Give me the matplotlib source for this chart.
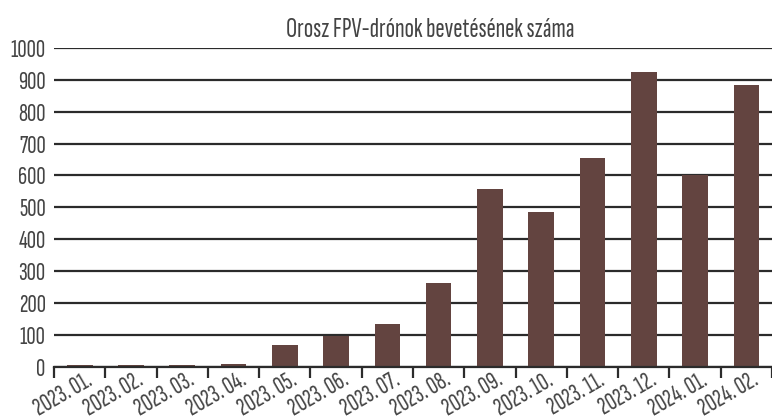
import matplotlib
matplotlib.use('Agg')
import matplotlib.pyplot as plt
import matplotlib.transforms as mtransforms
import numpy as np

plt.rcParams['font.family'] = ['Sofia Sans Extra Condensed', 'Barlow Condensed', 'DejaVu Sans']
plt.rcParams['font.weight'] = 'bold'

# adatok
months = ['2023. 01.', '2023. 02.', '2023. 03.', '2023. 04.', '2023. 05.', '2023. 06.', '2023. 07.',
          '2023. 08.', '2023. 09.', '2023. 10.', '2023. 11.', '2023. 12.', '2024. 01.', '2024. 02.']
counts = [6, 6, 5, 10, 69, 98, 134, 263, 557, 484, 656, 923, 601, 884]
yticks = [0, 100, 200, 300, 400, 500, 600, 700, 800, 900, 1000]

bar_color = '#634440'
text_color = '#444444'
grid_color = '#2b2b2b'

fig = plt.figure(figsize=(7.72, 4.16), dpi=100)
ax = fig.add_axes([0.07, 0.118, 0.93, 0.767])

x = np.arange(len(months))
ax.bar(x, counts, width=0.5, color=bar_color, zorder=3)

ax.set_xlim(-0.5, len(months) - 0.5)
ax.set_ylim(0, 1000)
ax.set_yticks(yticks)
ax.yaxis.grid(True, color=grid_color, linewidth=1.6, zorder=0)
ax.set_axisbelow(True)
ax.tick_params(axis='y', length=0, pad=6, labelsize=18.5, labelcolor=text_color)

for s in ['top', 'right', 'left']:
    ax.spines[s].set_visible(False)
ax.spines['bottom'].set_color(grid_color)
ax.spines['bottom'].set_linewidth(1.6)
ax.spines['bottom'].set_zorder(4)

# osztóvonalak a kategóriák között
ax.set_xticks(np.arange(-0.5, len(months)), minor=True)
ax.tick_params(axis='x', which='minor', length=8, width=1.6, color=grid_color)
ax.set_xticks(x)
ax.set_xticklabels(months)
ax.tick_params(axis='x', which='major', length=0, pad=1, labelsize=18.5, labelcolor=text_color)
offset = mtransforms.ScaledTranslation(5 / 100, 0, fig.dpi_scale_trans)
for lab in ax.get_xticklabels():
    lab.set_rotation(30)
    lab.set_ha('right')
    lab.set_va('top')
    lab.set_rotation_mode('anchor')
    lab.set_transform(lab.get_transform() + offset)

fig.text(0.557, 0.927, 'Orosz FPV-drónok bevetésének száma', ha='center', va='center',
         fontsize=20, color=text_color)

fig.savefig('out.png', dpi=100)
